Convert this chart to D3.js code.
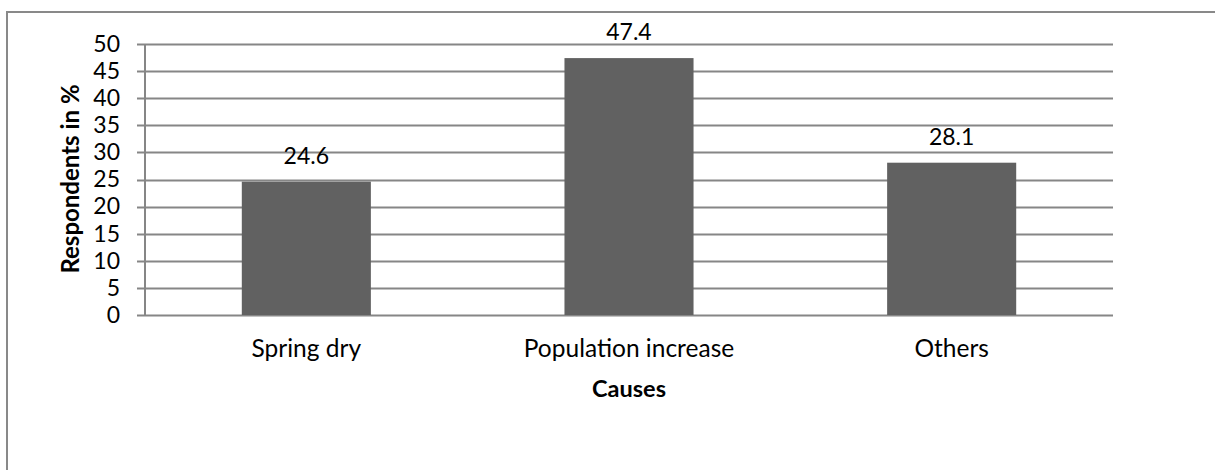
<!DOCTYPE html>
<html>
<head>
<meta charset="utf-8">
<script src="https://cdn.jsdelivr.net/npm/d3@7"></script>
<style>
  body { margin: 0; background: #fff; }
  svg text { font-family: Lato, 'Noto Sans', sans-serif; fill: #000; }
</style>
</head>
<body>
<div id="chart"></div>
<script>
var categories = ['Spring dry', 'Population increase', 'Others'];
var values = [24.6, 47.4, 28.1];
var yTicks = [0, 5, 10, 15, 20, 25, 30, 35, 40, 45, 50];

var width = 1215, height = 470;
var plot = { left: 145, right: 1113, top: 44, bottom: 315 };

var svg = d3.select('#chart').append('svg')
    .attr('width', width)
    .attr('height', height);

// outer frame (clipped on right and bottom like the source)
svg.append('rect')
    .attr('x', 7)
    .attr('y', 12)
    .attr('width', 1230)
    .attr('height', 480)
    .style('fill', 'none')
    .style('stroke', '#898989')
    .style('stroke-width', 2);

var x = d3.scaleBand()
    .domain(categories)
    .range([plot.left, plot.right])
    .paddingInner(0.6)
    .paddingOuter(0.3);

var y = d3.scaleLinear()
    .domain([0, 50])
    .range([plot.bottom, plot.top]);

// tick labels
svg.append('g')
    .attr('class', 'y-axis')
    .attr('transform', 'translate(' + (plot.left - 8) + ',0)')
    .call(d3.axisLeft(y).tickValues(yTicks).tickSize(0).tickPadding(17).tickFormat(d3.format('d')))
    .call(function (g) { g.select('.domain').remove(); })
    .selectAll('text')
    .style('font-size', '23px')
    .style('font-family', 'Lato, sans-serif');

// gridlines
svg.append('g')
    .selectAll('line')
    .data(yTicks)
    .enter()
    .append('line')
    .attr('x1', plot.left - 8)
    .attr('x2', plot.right)
    .attr('y1', function (d) { return Math.round(y(d)) + 0.5; })
    .attr('y2', function (d) { return Math.round(y(d)) + 0.5; })
    .style('stroke', '#868686')
    .style('stroke-width', 2);

svg.append('line')
    .attr('x1', plot.left)
    .attr('x2', plot.left)
    .attr('y1', y(50))
    .attr('y2', y(0))
    .style('stroke', '#868686')
    .style('stroke-width', 2);

// bars
svg.selectAll('.bar')
    .data(values)
    .enter()
    .append('rect')
    .attr('class', 'bar')
    .attr('x', function (d, i) { return x(categories[i]); })
    .attr('y', function (d) { return y(d); })
    .attr('width', x.bandwidth())
    .attr('height', function (d) { return y(0) - y(d); })
    .style('fill', '#616161');

// value labels
svg.selectAll('.value')
    .data(values)
    .enter()
    .append('text')
    .attr('class', 'value')
    .attr('x', function (d, i) { return x(categories[i]) + x.bandwidth() / 2; })
    .attr('y', function (d) { return y(d) - 18; })
    .attr('text-anchor', 'middle')
    .style('font-size', '23px')
    .text(function (d) { return d.toFixed(1); });

// category labels
svg.selectAll('.cat')
    .data(categories)
    .enter()
    .append('text')
    .attr('class', 'cat')
    .attr('x', function (d) { return x(d) + x.bandwidth() / 2; })
    .attr('y', 357)
    .attr('text-anchor', 'middle')
    .style('font-size', '24.5px')
    .text(function (d) { return d; });

// axis titles
svg.append('text')
    .attr('x', (plot.left + plot.right) / 2)
    .attr('y', 397)
    .attr('text-anchor', 'middle')
    .style('font-size', '23.5px')
    .style('font-weight', 'bold')
    .text('Causes');

svg.append('text')
    .attr('transform', 'translate(79,179) rotate(-90)')
    .attr('text-anchor', 'middle')
    .style('font-size', '24px')
    .style('font-weight', 'bold')
    .text('Respondents in %');
</script>
</body>
</html>
